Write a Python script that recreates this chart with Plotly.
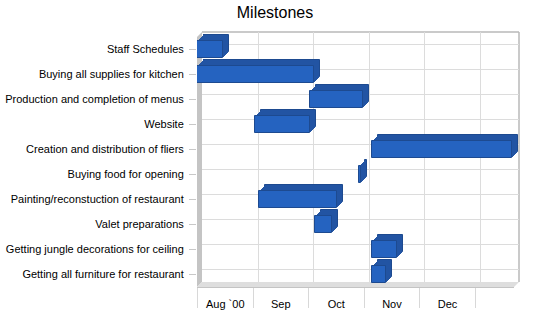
import pandas as pd
import plotly.graph_objects as go

# ---- data ----
tasks = [
    "Staff Schedules",
    "Buying all supplies for kitchen",
    "Production and completion of menus",
    "Website",
    "Creation and distribution of fliers",
    "Buying food for opening",
    "Painting/reconstuction of restaurant",
    "Valet preparations",
    "Getting jungle decorations for ceiling",
    "Getting all furniture for restaurant",
]
start_dates = ["2000-08-01", "2000-08-01", "2000-10-02", "2000-09-02", "2000-11-05",
               "2000-10-29", "2000-09-04", "2000-10-05", "2000-11-05", "2000-11-05"]
end_dates = ["2000-08-15", "2000-10-04", "2000-10-31", "2000-10-02", "2001-01-21",
             "2000-10-30", "2000-10-17", "2000-10-14", "2000-11-19", "2000-11-13"]
month_starts = ["2000-08-01", "2000-09-01", "2000-10-01", "2000-11-01", "2000-12-01", "2001-01-01"]
month_labels = ["Aug `00", "Sep", "Oct", "Nov", "Dec"]
x_range = ["2000-08-01", "2001-01-22"]

# ---- derived ----
s = pd.to_datetime(start_dates)
e = pd.to_datetime(end_dates)
dur_ms = [(b - a).total_seconds() * 1000 for a, b in zip(s, e)]
ms = pd.to_datetime(month_starts)
mid = [(ms[i] + (ms[i + 1] - ms[i]) / 2).strftime("%Y-%m-%d %H:%M") for i in range(len(month_labels))]

W, H = 550, 318
L, R, T, B = 197, 30, 31, 31
pw, ph = W - L - R, H - T - B          # 323 x 256
MAXD = 6                               # bar depth
PD = 5                                 # plane depth
fw, fh = pw - MAXD, ph - MAXD          # front plane size


def dom(k):
    return [k / pw, (fw + k) / pw], [k / ph, (fh + k) / ph]


FRONT = "#2563C0"
EXTR = "#2254A3"
EDGE = "#1D4A90"
FONT = "Liberation Sans, Arial, sans-serif"

fig = go.Figure()
layout = dict(
    width=W, height=H,
    margin=dict(l=L, r=R, t=T, b=B, autoexpand=False),
    paper_bgcolor="white", plot_bgcolor="rgba(0,0,0,0)",
    showlegend=False, bargap=0,
    font=dict(family=FONT, size=11, color="black"),
    title=dict(text="Milestones", x=0.5, xanchor="center", y=0.962, yanchor="middle",
               font=dict(size=16, family=FONT, color="black")),
)

# grid (back) plane: subplot xy
dx, dy = dom(PD)
layout["xaxis"] = dict(type="date", range=x_range, domain=dx, tickmode="array", tickvals=month_starts,
                       showgrid=True, gridcolor="#DCDCDC", gridwidth=1, showticklabels=False,
                       ticks="", zeroline=False, showline=False, automargin=False)
layout["yaxis"] = dict(range=[9.5, -0.5], domain=dy, tickmode="array", tickvals=list(range(len(tasks))),
                       showgrid=True, gridcolor="#DCDCDC", gridwidth=1, showticklabels=False,
                       ticks="", zeroline=False, showline=False, anchor="x", automargin=False)
fig.add_trace(go.Scatter(x=[x_range[0]], y=[0], mode="markers", marker=dict(opacity=0),
                         hoverinfo="skip", xaxis="x", yaxis="y"))

# extrusion layers, deepest first
n = 2
for k in range(MAXD, 0, -1):
    dx, dy = dom(k)
    layout[f"xaxis{n}"] = dict(type="date", range=x_range, domain=dx, visible=False,
                               anchor=f"y{n}", automargin=False)
    layout[f"yaxis{n}"] = dict(type="category", categoryorder="array", categoryarray=tasks,
                               range=[9.5, -0.5], domain=dy, visible=False, anchor=f"x{n}",
                               automargin=False)
    fig.add_trace(go.Bar(y=tasks, x=dur_ms, base=start_dates, orientation="h", width=0.68,
                         marker=dict(color=EXTR, line=dict(width=1 if k == MAXD else 0, color=EDGE)),
                         xaxis=f"x{n}", yaxis=f"y{n}", hoverinfo="skip"))
    n += 1

# front layer
dx, dy = dom(0)
layout[f"xaxis{n}"] = dict(type="date", range=x_range, domain=dx, anchor=f"y{n}",
                           tickmode="array", tickvals=mid, ticktext=month_labels,
                           ticks="outside", ticklen=7, tickcolor="rgba(0,0,0,0)",
                           showgrid=False, zeroline=False, showline=True, linecolor="#C4C4C4",
                           tickfont=dict(size=11, family=FONT, color="black"), automargin=False,
                           minor=dict(tickmode="array", tickvals=month_starts, ticks="outside",
                                      ticklen=20, tickcolor="#D8D8D8", showgrid=False))
layout[f"yaxis{n}"] = dict(type="category", categoryorder="array", categoryarray=tasks,
                           range=[9.5, -0.5], domain=dy, anchor=f"x{n}",
                           ticks="outside", ticklen=7, tickcolor="#C8C8C8", ticklabelstandoff=3,
                           showgrid=False, zeroline=False, showline=False, automargin=False,
                           tickfont=dict(size=11, family=FONT, color="black"))
fig.add_trace(go.Bar(y=tasks, x=dur_ms, base=start_dates, orientation="h", width=0.68,
                     marker=dict(color=FRONT, line=dict(width=1, color=EDGE)),
                     xaxis=f"x{n}", yaxis=f"y{n}", hoverinfo="skip"))

# wall, floor and back-plane border
x0, x1 = 0, PD / pw
xr_front, xr_back = fw / pw, (fw + PD) / pw
y0, y1 = 0, PD / ph
yt_front, yt_back = fh / ph, (fh + PD) / ph
shapes = [
    dict(type="path", xref="paper", yref="paper", layer="below",
         path=f"M {x0},{yt_front} L {x1},{yt_back} L {x1},{y1} L {x0},{y0} Z",
         fillcolor="#C4C4C4", line=dict(width=0)),
    dict(type="path", xref="paper", yref="paper", layer="below",
         path=f"M {x0},{y0} L {x1},{y1} L {xr_back},{y1} L {xr_front},{y0} Z",
         fillcolor="#DEDEDE", line=dict(width=0)),
    dict(type="line", xref="x domain", yref="y domain", x0=0, x1=1, y0=1, y1=1,
         line=dict(color="#B8B8B8", width=1.5), layer="below"),
    dict(type="line", xref="x domain", yref="y domain", x0=1, x1=1, y0=0, y1=1,
         line=dict(color="#B8B8B8", width=1.5), layer="below"),
]
layout["shapes"] = shapes
fig.update_layout(**layout)
fig.write_html("out.html")
